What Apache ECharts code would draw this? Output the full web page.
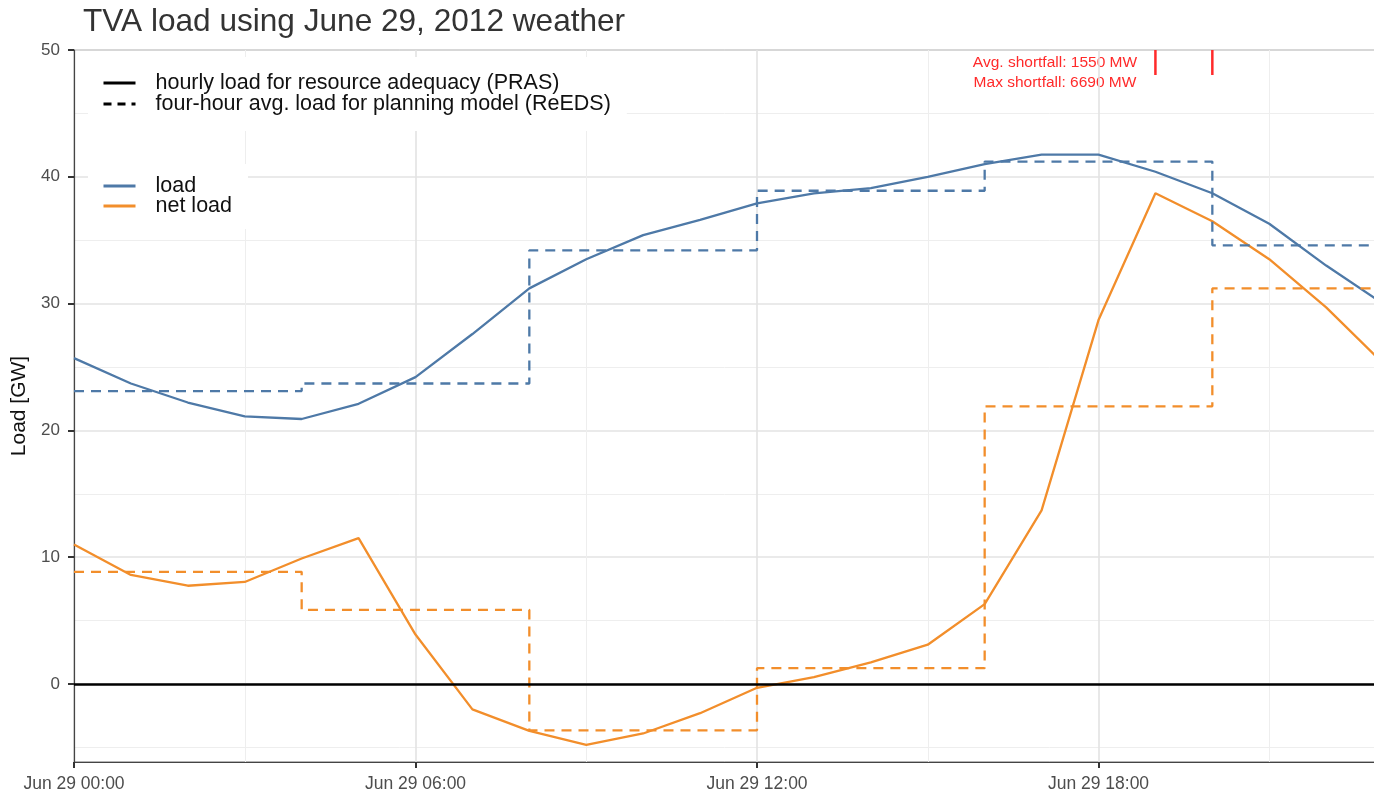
<!DOCTYPE html>
<html>
<head>
<meta charset="utf-8">
<script src="https://cdn.jsdelivr.net/npm/echarts@6/dist/echarts.min.js"></script>
<style>
  html, body { margin: 0; padding: 0; background: #fff; }
  #chart { width: 1374px; height: 792px; }
</style>
</head>
<body>
<div id="chart"></div>
<script>
// hourly values, Jun 29 2012 (GW)
const hours = [0, 1, 2, 3, 4, 5, 6, 7, 8, 9, 10, 11, 12, 13, 14, 15, 16, 17, 18, 19, 20, 21, 22, 23];
const loadValues = [25.7, 23.7, 22.2, 21.1, 20.9, 22.1, 24.2, 27.6, 31.2, 33.5, 35.4, 36.6,
  37.9, 38.7, 39.1, 40.0, 41.0, 41.75, 41.75, 40.4, 38.7, 36.3, 33.0, 30.0];
const netLoadValues = [11.0, 8.6, 7.75, 8.05, 9.9, 11.5, 3.9, -2.0, -3.7, -4.8, -3.9, -2.3,
  -0.3, 0.55, 1.7, 3.1, 6.3, 13.7, 28.7, 38.7, 36.5, 33.5, 29.7, 25.3];

// four-hour block averages
const blockStarts = [0, 4, 8, 12, 16, 20, 24];
const loadAvg = [23.1, 23.7, 34.2, 38.9, 41.2, 34.6];
const netLoadAvg = [8.85, 5.85, -3.65, 1.25, 21.9, 31.2];

const shortfallHours = [19, 20];
const shortfallText = ['Avg. shortfall: 1550 MW', 'Max shortfall: 6690 MW'];

// axis ticks
const yTicks = [0, 10, 20, 30, 40, 50];
const yMinorTicks = [-5, 5, 15, 25, 35, 45];

const blue = '#4e79a7';
const orange = '#f28e2b';
const font = 'Liberation Sans, Arial, sans-serif';

const PRAS = 'hourly load for resource adequacy (PRAS)';
const REEDS = 'four-hour avg. load for planning model (ReEDS)';

function pad(n) { return (n < 10 ? '0' : '') + n; }
function steps(avg) {
  return blockStarts.map((h, i) => [h, avg[Math.min(i, avg.length - 1)]]);
}

const legendText = { fontSize: 21.5, color: '#111', lineHeight: 19, padding: [0, 0, 0, 15] };

const chart = echarts.init(document.getElementById('chart'));
chart.setOption({
  animation: false,
  textStyle: { fontFamily: font },
  title: {
    text: 'TVA load using June 29, 2012 weather',
    left: 78, top: 1,
    textStyle: { fontSize: 31.6, fontWeight: 'normal', color: '#333' }
  },
  grid: {
    left: 74, top: 50, bottom: 30, right: -66,
    show: true, borderColor: '#6b6b6b', borderWidth: 1,
    outerBoundsMode: 'none', containLabel: false
  },
  legend: [
    {
      data: [PRAS, REEDS],
      orient: 'vertical', left: 88, top: 57,
      itemWidth: 32, itemHeight: 14, itemGap: -1,
      padding: [15, 16, 16, 14],
      backgroundColor: '#fff',
      itemStyle: { opacity: 0 },
      lineStyle: { width: 3 },
      textStyle: legendText
    },
    {
      data: ['load', 'net load'],
      orient: 'vertical', left: 88, top: 164,
      itemWidth: 32, itemHeight: 14, itemGap: -2,
      padding: [11, 16, 12, 14],
      backgroundColor: '#fff',
      itemStyle: { opacity: 0 },
      lineStyle: { width: 3 },
      textStyle: legendText
    }
  ],
  xAxis: {
    type: 'value', min: 0, max: 24, interval: 6,
    axisLine: { show: true, onZero: false, lineStyle: { color: '#444', width: 1.2 } },
    axisTick: { show: true, length: 6, lineStyle: { color: '#333', width: 2 } },
    axisLabel: {
      fontSize: 17.5, color: '#4d4d4d', margin: 13,
      formatter: v => 'Jun 29 ' + pad(v) + ':00'
    },
    splitLine: { show: true, lineStyle: { color: '#e3e3e3', width: 1.6 } },
    minorTick: { show: false, splitNumber: 2 },
    minorSplitLine: { show: true, lineStyle: { color: '#eeeeee', width: 1 } }
  },
  yAxis: [
    {
      type: 'value', min: -6.15, max: 50,
      name: 'Load [GW]', nameLocation: 'middle', nameGap: 32, nameRotate: 90,
      nameTextStyle: { fontSize: 21, color: '#111' },
      axisLine: { show: true, onZero: false, lineStyle: { color: '#444', width: 1.2 } },
      axisTick: { show: true, length: 6, customValues: yTicks, lineStyle: { color: '#333', width: 2 } },
      axisLabel: { fontSize: 17, color: '#4d4d4d', margin: 14, customValues: yTicks },
      splitLine: { show: true, lineStyle: { color: '#e3e3e3', width: 1.6 } }
    },
    {
      type: 'value', min: -6.15, max: 50,
      axisLine: { show: false },
      axisTick: { show: false, customValues: yMinorTicks },
      axisLabel: { show: false, customValues: yMinorTicks },
      splitLine: { show: true, lineStyle: { color: '#eeeeee', width: 1 } }
    }
  ],
  graphic: shortfallText.map((t, i) => ({
    type: 'text', x: 1055, y: 62 + i * 20,
    style: { text: t, fill: '#ff2a2a', font: '15.5px ' + font, textAlign: 'center', textVerticalAlign: 'top', y: -7 }
  })),
  series: [
    { name: PRAS, type: 'line', data: [], symbol: 'none', color: '#000', lineStyle: { color: '#000', width: 3 } },
    { name: REEDS, type: 'line', data: [], symbol: 'none', color: '#000', lineStyle: { color: '#000', width: 3, type: [8, 6] } },
    {
      name: 'load', type: 'line', symbol: 'none', color: blue,
      lineStyle: { color: blue, width: 2.3 },
      data: hours.map((h, i) => [h, loadValues[i]]),
      markLine: {
        silent: true, symbol: 'none', label: { show: false },
        lineStyle: { color: '#000', width: 2.5, type: 'solid' },
        data: [{ yAxis: 0 }]
      }
    },
    {
      name: 'net load', type: 'line', symbol: 'none', color: orange,
      lineStyle: { color: orange, width: 2.3 },
      data: hours.map((h, i) => [h, netLoadValues[i]])
    },
    {
      name: 'load avg', type: 'line', symbol: 'none', step: 'end', color: blue,
      lineStyle: { color: blue, width: 2.3, type: [10, 7] },
      data: steps(loadAvg)
    },
    {
      name: 'net load avg', type: 'line', symbol: 'none', step: 'end', color: orange,
      lineStyle: { color: orange, width: 2.3, type: [10, 7] },
      data: steps(netLoadAvg)
    },
    {
      name: 'shortfall', type: 'custom', encode: { x: 0 },
      data: shortfallHours.map(h => [h]),
      renderItem: (params, api) => {
        const x = api.coord([api.value(0), 0])[0];
        const top = params.coordSys.y;
        return {
          type: 'line',
          shape: { x1: x, y1: top, x2: x, y2: top + 25 },
          style: { stroke: '#ff2a2a', lineWidth: 2.5 }
        };
      }
    }
  ]
});
</script>
</body>
</html>
